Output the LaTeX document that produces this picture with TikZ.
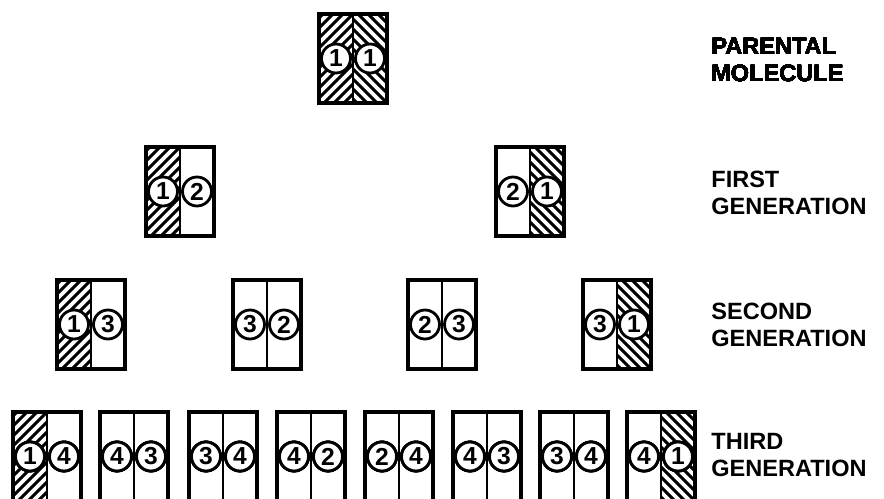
\documentclass[tikz,border=0pt]{standalone}
\usepackage{fontspec}
\setmainfont{Liberation Sans}
\usetikzlibrary{positioning}
\tikzset{
  strand/.style={circle, draw, fill=white, line width=1.6pt,
    minimum size=0.58cm, inner sep=0pt,
    font=\fontsize{14}{14}\selectfont\bfseries},
  genlabel/.style={anchor=west, align=left, inner sep=0pt,
    font=\fontsize{13.4}{15.4}\selectfont\bfseries}
}
% hatching of one strand (x, y of its top left corner)
\newcommand{\hatchne}[2]{%
  \begin{scope}
    \clip (#1,#2) rectangle ++(34,89);
    \foreach \hh in {-95,-85,...,40}
      \draw[line width=1.7pt] (#1+\hh,#2+89) -- ++(89,-89);
  \end{scope}}
\newcommand{\hatchnw}[2]{%
  \begin{scope}
    \clip (#1,#2) rectangle ++(34,89);
    \foreach \hh in {-95,-85,...,40}
      \draw[line width=1.7pt] (#1+\hh,#2) -- ++(89,89);
  \end{scope}}
% one double helix: name, x, y, left and right strand
\newcommand{\duplex}[5]{%
  \draw[line width=2.1pt] (#2,#3) rectangle ++(68,89);
  \draw[line width=1.6pt] (#2+34,#3) -- ++(0,89);
  \node[strand] (#1l) at (#2+17,#3+44.5) {#4};
  \node[strand] (#1r) at (#2+51,#3+44.5) {#5};}

\begin{document}
\begin{tikzpicture}[x=0.02cm, y=-0.02cm]
  \useasboundingbox (0,0) rectangle (884,499);
  \clip (0,0) rectangle (884,499);
  % old strands
  \hatchne{319}{14} \hatchnw{353}{14}
  \hatchne{146}{147} \hatchnw{530}{147}
  \hatchne{57}{280} \hatchnw{617}{280}
  \hatchne{13}{412} \hatchnw{661}{412}
  % parental molecule
  \duplex{p}{319}{14}{1}{1}
  % first generation
  \duplex{fa}{146}{147}{1}{2}
  \duplex{fb}{496}{147}{2}{1}
  % second generation
  \foreach \n/\x/\l/\r in {a/57/1/3, b/233/3/2, c/408/2/3, d/583/3/1}
    \duplex{s\n}{\x}{280}{\l}{\r}
  % third generation
  \foreach \n/\x/\l/\r in {a/13/1/4, b/100/4/3, c/189/3/4, d/277/4/2,
                           e/365/2/4, f/453/4/3, g/540/3/4, h/627/4/1}
    \duplex{t\n}{\x}{412}{\l}{\r}
  % labels
  \node[genlabel] (lblparent) at (711,60) {PARENTAL\\MOLECULE};
  \node[genlabel] (lblfirst) at (711,192.5) {FIRST\\GENERATION};
  \node[genlabel] (lblsecond) at (711,325) {SECOND\\GENERATION};
  \node[genlabel] (lblthird) at (711,455) {THIRD\\GENERATION};
\end{tikzpicture}
\end{document}
